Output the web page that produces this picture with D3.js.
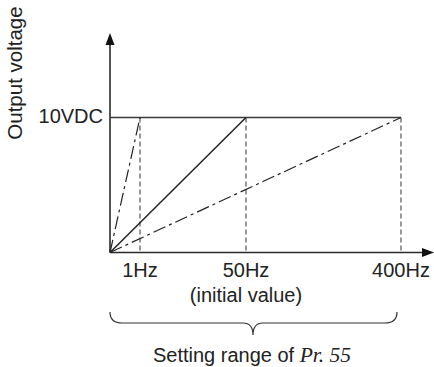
<!DOCTYPE html>
<html><head><meta charset="utf-8">
<script src="https://cdn.jsdelivr.net/npm/d3@7"></script>
<style>body{margin:0;background:#fff}svg{display:block}</style>
</head><body>
<svg id="c" width="434" height="367"></svg>
<script>
const freqValues = [1, 50, 400];
const freqLabels = ["1Hz", "50Hz", "400Hz"];
const lineStyles = ["dashdot", "solid", "dashdot"];
const maxVoltage = 10;
const voltageLabel = "10VDC";
const yTitle = "Output voltage";
const subLabel = "(initial value)";

const svg = d3.select("#c");
const font = "'Liberation Sans', Arial, sans-serif";
// piecewise x scale (chart not drawn to linear scale)
const x = d3.scaleLinear().domain([0, 1, 50, 400]).range([110, 140, 246, 401]);
const y = d3.scaleLinear().domain([0, maxVoltage]).range([252.5, 117.5]);
const ink = "#2a2a2a";

// axes
svg.append("line").attr("x1", x(0)).attr("x2", 426).attr("y1", y(0)).attr("y2", y(0)).attr("stroke", ink).attr("stroke-width", 1.6);
svg.append("line").attr("x1", x(0)).attr("x2", x(0)).attr("y1", y(0)).attr("y2", 42).attr("stroke", ink).attr("stroke-width", 1.6);
svg.append("path").attr("d", `M${x(0)},33 L${x(0)-4.5},45 L${x(0)+4.5},45 Z`).attr("fill", "#111");
svg.append("path").attr("d", `M434,${y(0)} L422,${y(0)-4.5} L422,${y(0)+4.5} Z`).attr("fill", "#111");

// horizontal 10V line
svg.append("line").attr("x1", x(0)).attr("x2", x(400)).attr("y1", y(maxVoltage)).attr("y2", y(maxVoltage)).attr("stroke", "#3a3a3a").attr("stroke-width", 1.5);

// vertical dashed guides
svg.selectAll("line.guide").data(freqValues).join("line").attr("class", "guide")
  .attr("x1", d => x(d)).attr("x2", d => x(d)).attr("y1", y(maxVoltage)).attr("y2", y(0))
  .attr("stroke", "#555").attr("stroke-width", 1.2).attr("stroke-dasharray", "5,3");

// ramp lines
const line = d3.line().x(d => x(d[0])).y(d => y(d[1]));
svg.selectAll("path.ramp").data(freqValues).join("path").attr("class", "ramp")
  .attr("d", (d) => line([[0, 0], [d, maxVoltage]]))
  .attr("fill", "none").attr("stroke", "#222").attr("stroke-width", (d, i) => lineStyles[i] === "solid" ? 1.5 : 1.2)
  .attr("stroke-dasharray", (d, i) => lineStyles[i] === "solid" ? null : "13,4,3,4");

// tick labels
const fs = 20;
svg.selectAll("text.tick").data(freqValues).join("text").attr("class", "tick")
  .attr("x", d => x(d)).attr("y", 277).attr("text-anchor", "middle")
  .attr("font-family", font).attr("font-size", fs).attr("fill", "#222")
  .text((d, i) => freqLabels[i]);
svg.append("text").attr("x", x(50)).attr("y", 302).attr("text-anchor", "middle")
  .attr("font-family", font).attr("font-size", fs).attr("fill", "#222").text(subLabel);

// y value label
svg.append("text").attr("x", 103).attr("y", 123).attr("text-anchor", "end")
  .attr("font-family", font).attr("font-size", fs).attr("fill", "#222").text(voltageLabel);

// y title
svg.append("text").attr("transform", "translate(22,73) rotate(-90)").attr("text-anchor", "middle")
  .attr("font-family", font).attr("font-size", 20.5).attr("fill", "#222").text(yTitle);

// brace
const bx0 = x(0), bx1 = 397, bm = 253, by0 = 312, by1 = 323, bt = 335;
svg.append("path").attr("d",
  `M${bx0},${by0} Q${bx0},${by1} ${bx0+12},${by1} L${bm-10},${by1} Q${bm},${by1} ${bm},${bt}` +
  ` Q${bm},${by1} ${bm+10},${by1} L${bx1-12},${by1} Q${bx1},${by1} ${bx1},${by0}`)
  .attr("fill", "none").attr("stroke", "#333").attr("stroke-width", 1.2);

// bottom caption
const cap = svg.append("text").attr("x", 252).attr("y", 362).attr("text-anchor", "middle")
  .attr("font-family", font).attr("font-size", 20).attr("fill", "#222");
cap.append("tspan").text("Setting range of ");
cap.append("tspan").attr("font-family", "'Liberation Serif', 'Times New Roman', serif").attr("font-style", "italic").attr("font-size", 21.5).text("Pr. 55");
</script>
</body></html>
